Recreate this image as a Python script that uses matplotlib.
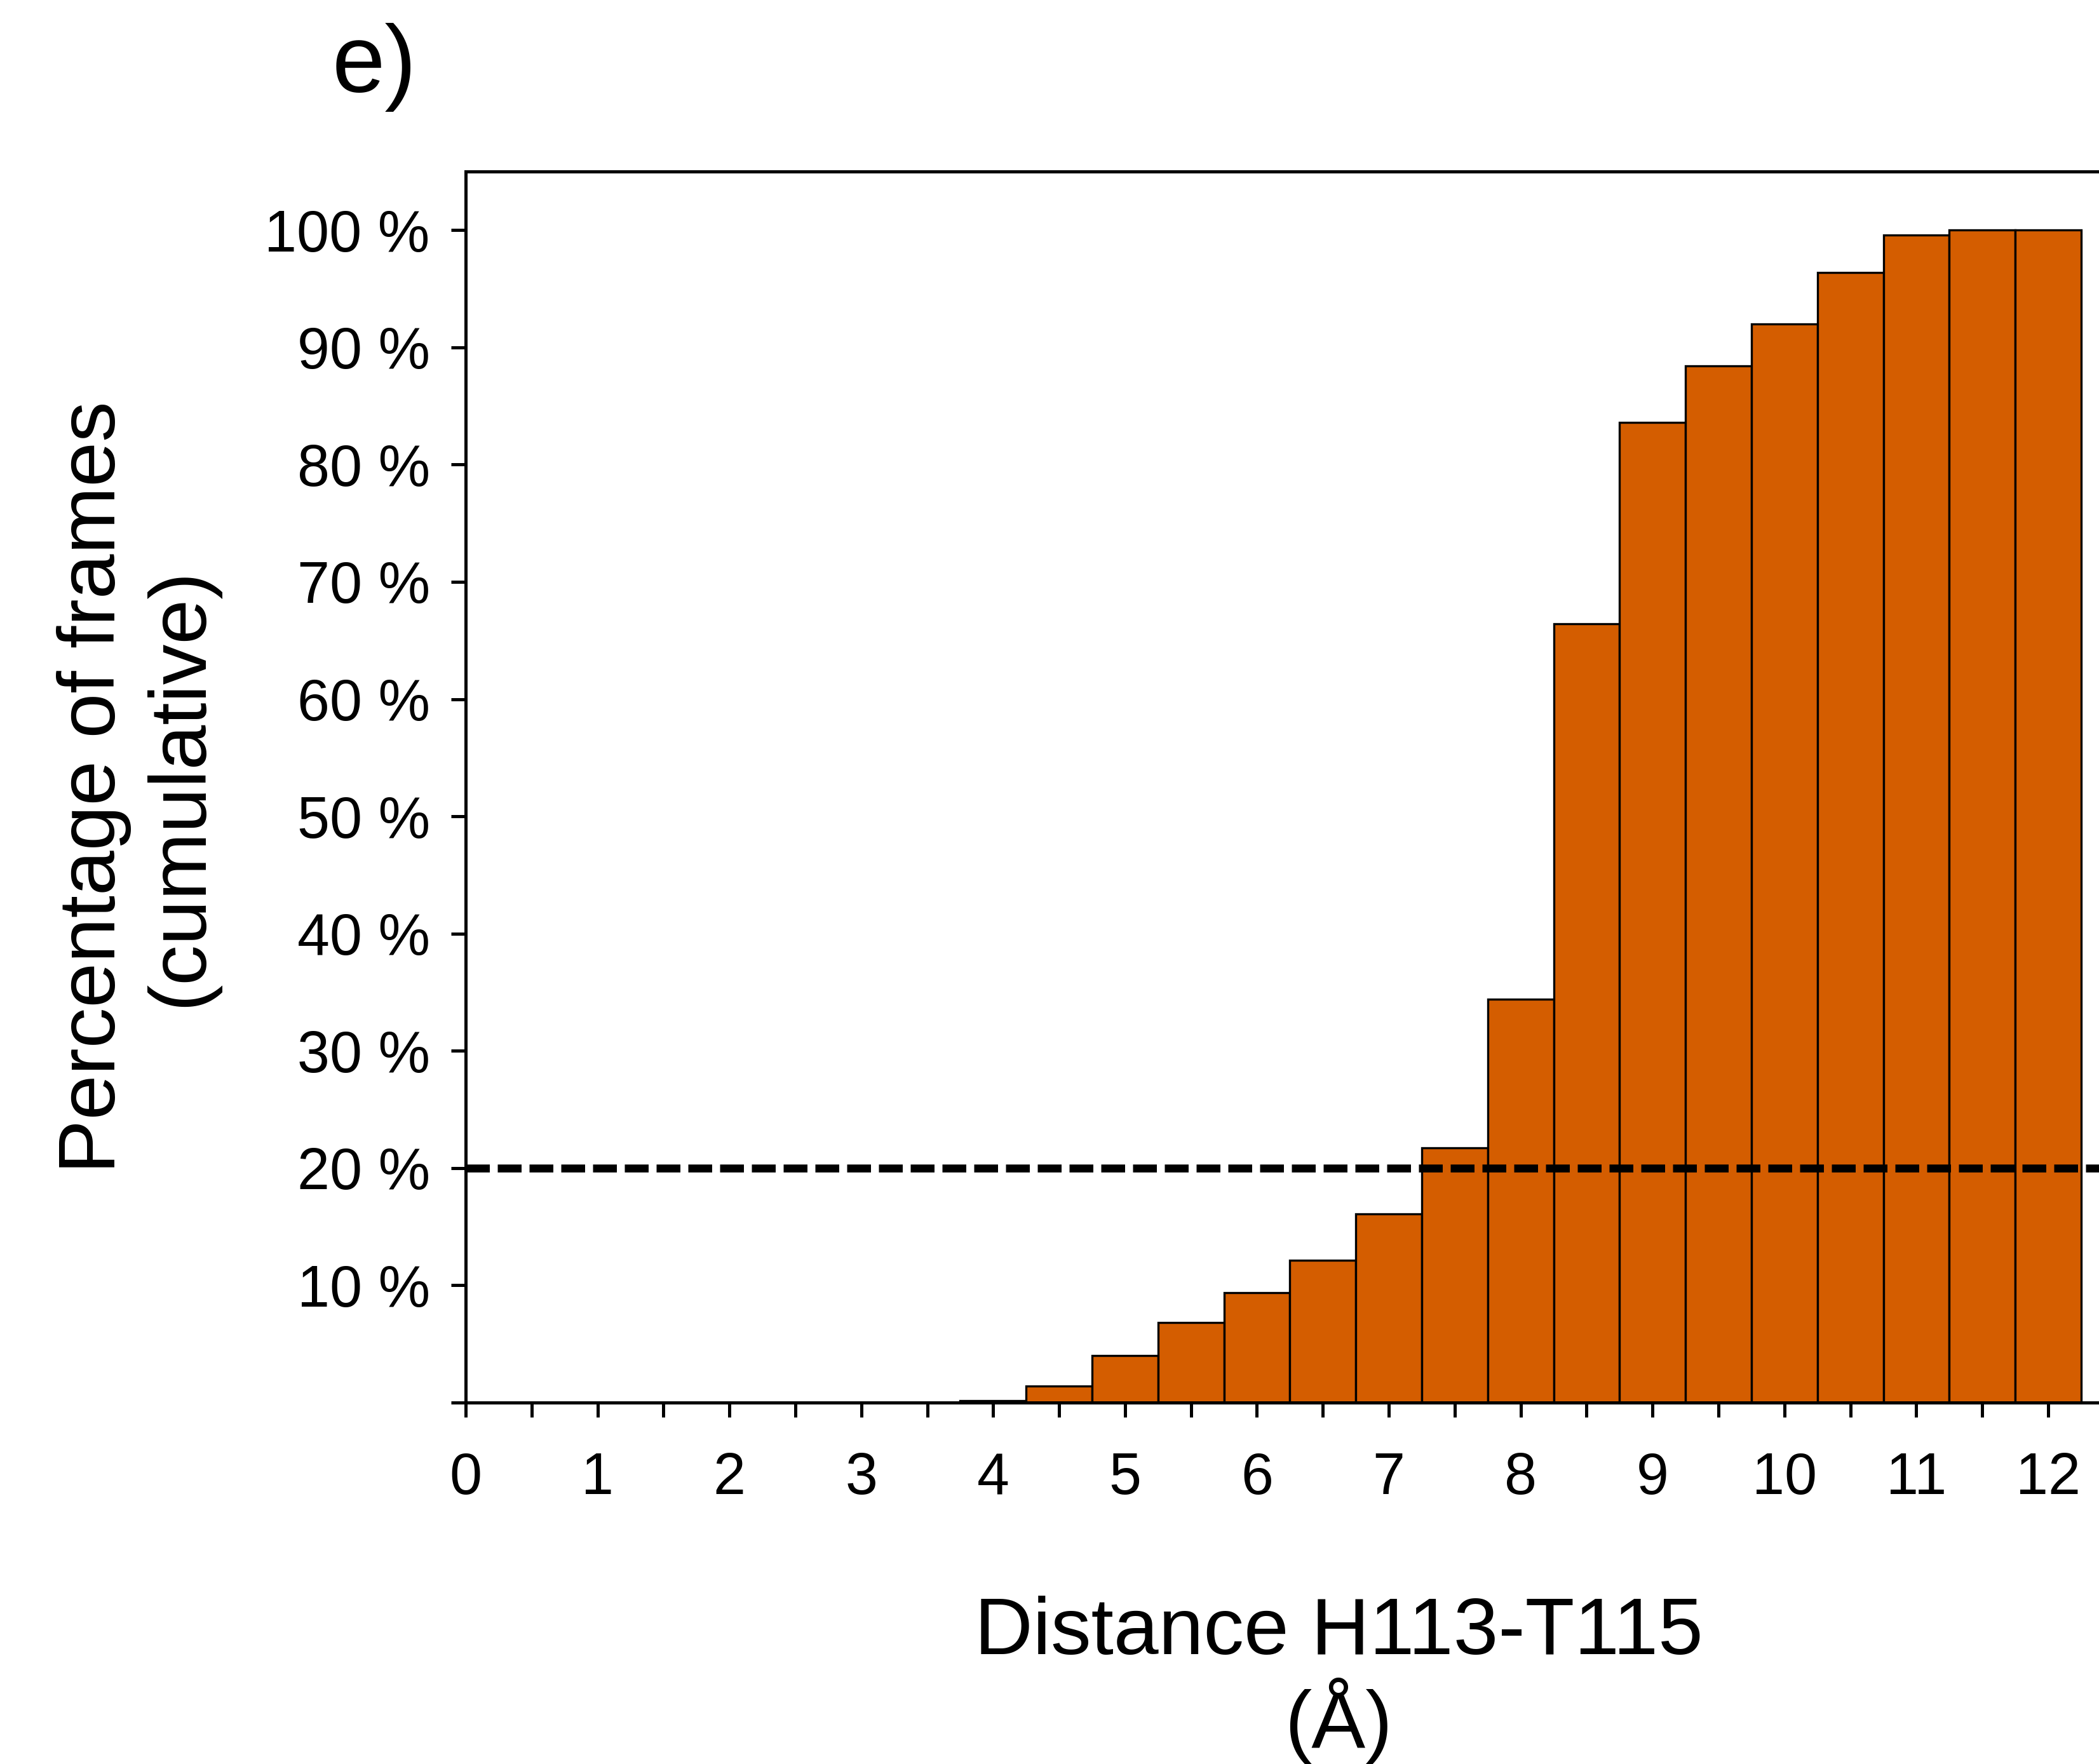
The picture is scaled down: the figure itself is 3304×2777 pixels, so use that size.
import matplotlib
matplotlib.use("Agg")
import matplotlib.pyplot as plt
import numpy as np

plt.rcParams['font.family'] = ['Liberation Sans', 'DejaVu Sans']

# Data
bin_centers = [0.0, 0.5, 1.0, 1.5, 2.0, 2.5, 3.0, 3.5, 4.0, 4.5, 5.0, 5.5, 6.0,
               6.5, 7.0, 7.5, 8.0, 8.5, 9.0, 9.5, 10.0, 10.5, 11.0, 11.5, 12.0]
cumulative_pct = [0, 0, 0, 0, 0, 0, 0, 0, 0.15, 1.4, 4.0, 6.85, 9.35,
                  12.15, 16.1, 21.7, 34.4, 66.4, 83.6, 88.4, 92.0, 96.4, 99.6, 100.0, 100.0]
threshold_pct = 20
x_tick_labels = [str(i) for i in range(13)]
y_tick_values = [0, 10, 20, 30, 40, 50, 60, 70, 80, 90, 100]
y_tick_labels = [''] + [f'{v} %' for v in y_tick_values[1:]]

W, H = 3304, 2777
dpi = 300
fig = plt.figure(figsize=(W / dpi, H / dpi), dpi=dpi)

left_px, right_px = 733, 3400
top_px, bottom_px = 270, 2208
ax = fig.add_axes([left_px / W, 1 - bottom_px / H,
                   (right_px - left_px) / W, (bottom_px - top_px) / H])

ax.bar(bin_centers, cumulative_pct, width=0.5, color='#D45D00',
       edgecolor='black', linewidth=0.8, zorder=2)
ax.axhline(threshold_pct, color='black', linewidth=3.0, dashes=(3.0, 1.0), zorder=3)

unit_px = (3224 - 733) / 12.0
ax.set_xlim(0, (right_px - left_px) / unit_px)
ax.set_ylim(0, 105)

ax.set_xticks(range(13))
ax.set_xticklabels(x_tick_labels)
ax.set_xticks(np.arange(0.5, 13, 1.0), minor=True)
ax.set_yticks(y_tick_values)
ax.set_yticklabels(y_tick_labels)

for s in ax.spines.values():
    s.set_linewidth(1.2)
ax.spines['right'].set_visible(False)

ax.tick_params(axis='both', which='both', direction='out', length=5.5, width=1.2,
               labelsize=22, color='black')
ax.tick_params(axis='x', which='both', pad=13)
ax.tick_params(axis='y', which='both', pad=8)

ax.set_xlabel('Distance H113-T115\n(Å)', fontsize=30.5, linespacing=1.1, ha='center')
ax.xaxis.set_label_coords((2107 - left_px) / (right_px - left_px), -0.157)
ax.set_ylabel('Percentage of frames\n(cumulative)', fontsize=30.5, linespacing=1.2)
ax.yaxis.set_label_coords((343 - left_px) / (right_px - left_px), 0.5)

fig.text(523 / W, 1 - 145 / H, 'e)', fontsize=36, ha='left', va='baseline')

fig.savefig('out.png', dpi=dpi, facecolor='white')
